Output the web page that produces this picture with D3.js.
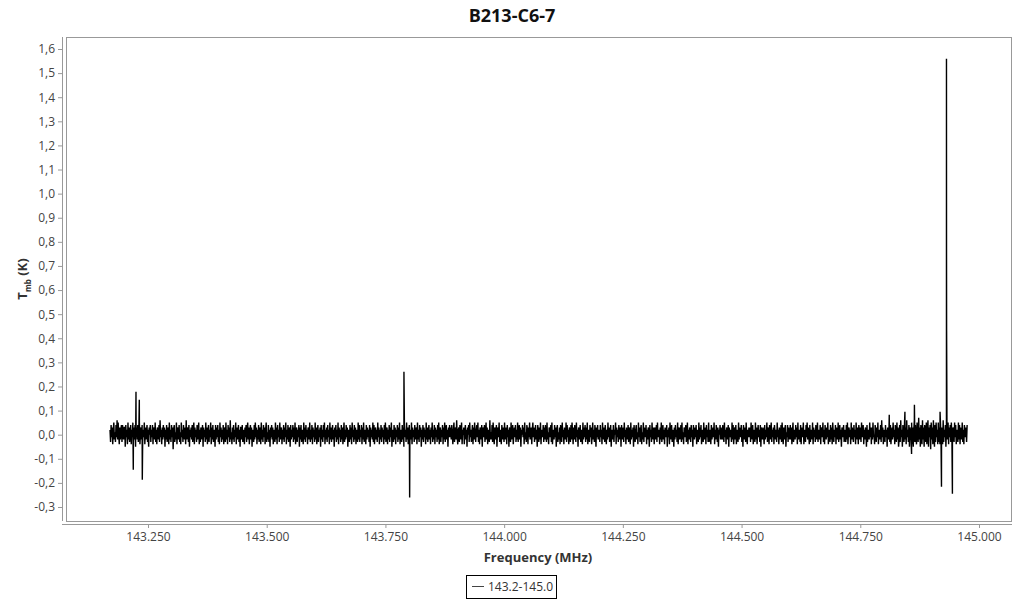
<!DOCTYPE html>
<html><head><meta charset="utf-8">
<script src="https://cdn.jsdelivr.net/npm/d3@7"></script>
<style>
body{margin:0;background:#fff;}
text{font-family:"Open Sans",sans-serif;}
</style></head>
<body><svg id="c" width="1024" height="600"></svg>
<script>
const title = "B213-C6-7";
const seriesName = "143.2-145.0";
const xTicks = [143.25,143.5,143.75,144.0,144.25,144.5,144.75,145.0];
const yTicks = [-0.3,-0.2,-0.1,0,0.1,0.2,0.3,0.4,0.5,0.6,0.7,0.8,0.9,1.0,1.1,1.2,1.3,1.4,1.5,1.6];
// channel range of the spectrum (MHz)
const freqStart = 143.170, freqEnd = 144.975;
// baseline channels (K), evenly spaced between freqStart and freqEnd
const tmbNoise = [
.02,-.03,.04,-.01,.03,-.04,.02,.05,-.02,.01,-.03,.04,-.01,.06,-.02,.05,.00,-.04,.03,-.02,.02,.04,-.03,.04,.01,
-.02,.03,.03,-.05,.04,-.01,.02,-.04,.05,-.02,.03,-.03,.01,.04,-.04,.02,-.01,.05,-.03,.03,-.02,.04,-.05,.01,.03,
-.02,.04,-.03,.02,.05,-.04,.01,.03,-.02,.04,-.03,.02,-.01,.05,-.04,.03,-.02,.01,.04,-.03,.02,-.05,.03,.00,.04,
-.03,.02,-.01,.04,-.04,.03,.01,-.02,.05,-.03,.02,-.04,.03,.01,-.02,.04,-.03,.06,-.01,.02,-.04,.03,-.02,.04,-.01,
.03,-.05,.02,-.02,.04,-.03,.01,.03,-.04,.05,-.02,.02,-.03,.04,-.01,.03,-.06,.02,.04,-.03,.01,-.02,.05,-.04,.02,
.03,-.02,.04,-.03,.01,-.04,.05,-.01,.02,-.03,.04,.00,-.02,.03,-.04,.06,-.02,.01,.03,-.03,.04,-.05,.02,-.01,.03,
-.02,.04,-.03,.02,.05,-.04,.03,-.01,.02,-.03,.04,-.02,.01,.05,-.04,.02,-.03,.03,.01,-.02,.04,-.05,.03,-.01,.02,
-.03,.05,-.02,.03,-.04,.01,.04,-.03,.02,-.01,.05,-.04,.03,-.02,.04,-.03,.01,.02,-.05,.04,-.02,.03,-.01,.04,-.03,
.02,-.04,.05,-.01,.03,-.03,.02,-.02,.04,-.04,.01,.03,-.03,.05,-.02,.02,-.04,.04,-.01,.03,-.03,.06,-.02,.01,-.04,
.03,-.02,.04,-.03,.02,-.01,.05,-.04,.03,-.02,.01,.04,-.03,.02,-.05,.03,.03,-.02,.04,-.03,-.02,.02,-.04,.03,-.01,
.04,-.03,.02,.05,-.02,.03,-.04,.01,.04,-.02,.03,-.05,.02,.01,-.03,.04,-.02,.05,-.01,.03,-.04,.02,-.02,.04,-.03,
.01,.03,-.04,.05,-.02,.02,-.03,.04,-.01,.03,-.04,.02,.05,-.03,.01,-.02,.04,-.03,.02,-.05,.03,-.01,.04,-.02,.03,
-.04,.02,.01,-.03,.05,-.02,.03,-.04,.04,-.01,.02,-.03,.05,-.02,.01,.03,-.04,.02,-.02,.04,-.03,.03,-.01,.05,-.04,
.02,-.02,.04,-.03,.01,.03,-.05,.04,-.02,.02,-.01,.04,-.03,.03,-.02,.05,-.04,.01,.03,-.03,.02,-.01,.04,-.05,.03,
-.02,.04,-.03,.02,.01,-.04,.05,-.02,.03,-.03,.04,-.01,.02,-.04,.03,.01,-.02,.05,-.03,.02,-.02,.04,-.04,.03,-.01,
.02,-.03,.05,-.02,.03,-.04,.01,.04,-.03,.02,-.01,.03,-.05,.04,-.02,.02,-.03,.04,-.01,.05,-.04,.02,-.02,.03,-.03,
.04,-.01,.02,-.04,.05,-.02,.03,-.03,.01,.04,-.02,.02,-.05,.03,-.01,.04,-.03,.02,-.02,.05,-.04,.03,-.01,.02,-.03,
.04,-.02,.03,-.04,.01,.05,-.03,.02,-.02,.04,-.01,.03,-.05,.02,.01,-.03,.04,-.02,.03,-.04,.05,-.01,.02,-.03,.04,
-.02,.03,-.04,.02,.01,-.03,.05,-.02,.04,-.03,.02,-.01,.04,-.04,.03,-.02,.05,-.03,.01,.02,-.04,.04,-.02,.03,-.01,
.02,-.03,.04,-.05,.03,-.01,.02,-.02,.05,-.03,.04,-.04,.01,.03,-.02,.02,-.03,.05,-.01,.03,-.04,.02,-.02,.04,-.03,
.03,-.01,.02,-.04,.04,-.02,.05,-.03,.01,.03,-.04,.02,-.02,.04,-.03,.03,-.01,.05,-.05,.02,.01,-.03,.04,-.02,.03,
-.04,.02,-.01,.04,-.03,.03,-.02,.05,-.04,.01,.02,-.03,.04,-.02,.03,-.05,.04,-.01,.02,-.03,.05,-.02,.03,-.04,.01,
.04,-.03,.02,-.02,.05,-.04,.03,-.01,.02,-.03,.04,-.02,.01,.03,-.04,.05,-.02,.02,-.03,.04,-.01,.03,-.05,.02,-.02,
.04,-.03,.03,-.01,.02,-.04,.05,-.02,.03,-.03,.01,.04,-.02,.02,-.04,.03,-.01,.05,-.03,.02,-.02,.04,-.04,.03,-.01,
.02,-.03,.04,-.02,.05,-.04,.01,.03,-.03,.02,-.01,.04,-.04,.03,-.02,.05,-.03,.01,.04,-.02,.02,-.05,.03,-.01,.04,
-.01,.03,-.02,.04,.00,-.04,.02,.05,-.03,.01,.03,-.02,.06,-.01,-.04,.02,.03,-.03,.04,.01,-.02,.05,-.04,.02,.00,
.03,-.04,.01,.04,-.02,.02,-.05,.03,.00,.04,-.03,.05,-.01,.02,-.03,.01,.04,-.04,.03,-.02,.05,.00,-.03,.02,.04,
-.01,.05,-.03,.02,-.04,.03,.01,-.02,.04,-.05,.02,.03,-.01,.04,-.03,.00,.05,-.02,.03,-.04,.02,.01,-.03,.06,-.02,
.01,-.02,.04,-.03,.05,.00,-.04,.03,.02,-.02,.04,-.05,.01,.03,-.01,.05,-.03,.02,.00,-.04,.04,.01,-.02,.03,-.03,
.05,-.02,.00,.03,-.04,.04,-.01,.02,-.05,.03,.01,-.03,.05,-.02,.02,.04,-.04,.00,.03,-.01,.04,-.03,.02,-.02,.05,
-.03,.01,.04,-.02,.03,-.05,.02,.00,.04,-.01,.03,-.04,.05,-.02,.01,-.03,.04,.02,-.04,.03,-.01,.05,-.02,.00,.03,
-.04,.02,.05,-.01,.03,-.03,.00,.04,-.02,.02,-.05,.04,.01,-.03,.03,-.02,.05,-.04,.02,.01,-.01,.04,-.03,.03,-.02,
.04,.00,-.03,.05,-.02,.01,-.04,.03,.02,-.01,.04,-.03,.05,-.04,.00,.02,-.02,.04,-.01,.03,-.05,.02,.04,-.03,.01,
-.02,.03,-.04,.04,.01,-.03,.05,-.01,.02,-.04,.03,.00,-.02,.05,-.03,.04,-.01,.02,-.04,.03,.01,-.03,.04,-.02,.05,
.01,-.04,.03,-.02,.04,.00,-.03,.05,-.01,.02,-.05,.03,.01,-.02,.04,-.03,.02,.00,-.04,.05,-.02,.03,-.01,.04,-.03,
.03,-.02,.05,-.04,.01,.02,-.03,.04,-.01,.03,-.04,.00,.05,-.02,.02,-.03,.04,.01,-.05,.03,-.01,.04,-.02,.02,.00,
-.03,.04,-.01,.02,-.04,.05,.00,-.02,.03,-.03,.04,.01,-.04,.02,-.02,.05,-.01,.03,-.03,.00,.04,-.05,.02,.01,-.02,
.04,-.03,.02,.00,.05,-.04,.03,-.01,.02,-.03,.04,-.02,.01,.03,-.05,.04,.00,-.02,.03,-.03,.05,-.01,.02,-.04,.03,
.00,-.02,.04,-.03,.03,.01,-.04,.05,-.02,.02,-.01,.03,-.05,.04,.00,-.03,.02,.04,-.02,.01,-.04,.05,-.01,.03,-.03,
.02,.04,-.04,.01,-.02,.05,-.03,.03,.00,-.01,.04,-.04,.02,-.02,.03,.01,-.05,.04,-.01,.02,-.03,.05,.00,-.02,.03,
-.04,.03,.01,-.02,.04,-.03,.05,-.01,.00,.02,-.04,.03,-.02,.05,-.03,.01,.04,-.02,.02,-.04,.03,.00,-.01,.04,-.05,
.02,-.01,.03,-.04,.05,.00,-.02,.04,-.03,.02,.01,-.05,.03,-.02,.04,-.01,.02,-.03,.05,-.04,.01,.03,-.02,.00,.04,
-.03,.05,-.02,.01,-.04,.03,.02,-.01,.04,-.03,.00,.05,-.04,.02,-.02,.03,.01,-.03,.04,-.01,.02,-.05,.04,.00,-.02,
.03,-.01,.04,-.04,.02,.00,-.03,.05,-.02,.03,-.01,.04,-.04,.01,.02,-.03,.05,-.02,.00,.03,-.04,.04,-.01,.02,-.03,
.05,-.03,.01,.02,-.04,.04,-.02,.00,.03,-.01,.05,-.04,.02,-.02,.04,.01,-.03,.03,-.05,.02,.00,.04,-.02,.03,-.01,
-.02,.04,.00,-.03,.05,-.01,.02,-.04,.03,.01,-.02,.04,-.05,.03,-.01,.02,.00,-.03,.05,-.02,.04,-.04,.01,.03,-.02,
.04,-.04,.02,.01,-.03,.05,-.02,.03,.00,-.01,.04,-.03,.02,-.05,.04,.01,-.02,.03,-.03,.05,.00,-.04,.02,-.01,.03,
-.01,.03,-.03,.05,.00,-.02,.04,-.04,.02,.01,-.03,.05,-.02,.03,-.04,.00,.04,-.01,.02,-.03,.04,-.05,.03,.01,-.02,
.03,.00,-.04,.04,-.02,.02,-.01,.05,-.03,.03,.01,-.04,.04,-.02,.00,.05,-.03,.02,-.01,.03,-.04,.04,.01,-.02,.02,
-.03,.05,-.01,.02,-.04,.03,.00,-.02,.04,-.03,.05,.01,-.04,.03,-.02,.02,.04,-.05,.01,-.01,.04,-.03,.03,.00,-.02,
.04,-.02,.03,-.04,.01,.05,-.03,.00,.02,-.02,.04,-.01,.03,-.04,.05,-.02,.01,.02,-.03,.04,-.04,.03,.00,-.01,.05,
-.04,.02,.01,-.03,.04,-.01,.05,-.02,.03,.00,-.04,.04,-.03,.02,.01,-.02,.05,-.04,.03,-.01,.02,-.03,.04,.00,-.02,
.05,-.03,.02,.00,-.02,.04,-.04,.03,.01,-.01,.05,-.03,.02,-.04,.04,.00,-.02,.03,-.01,.05,-.04,.02,.01,-.03,.04,
-.02,.03,-.04,.05,.01,-.03,.02,-.01,.04,-.04,.03,.00,-.02,.05,-.03,.01,.04,-.02,.02,-.05,.03,.01,-.01,.04,-.03,
.02,.00,-.03,.04,-.02,.05,-.04,.01,.03,-.01,.02,-.04,.05,-.02,.03,.00,-.03,.04,-.01,.02,-.04,.05,.01,-.02,.03,
-.04,.04,.01,-.02,.03,-.03,.05,.00,-.01,.04,-.04,.02,-.02,.03,.01,-.05,.04,-.03,.02,.00,-.02,.05,-.01,.03,-.04,
.03,-.02,.05,-.01,.00,-.04,.04,.02,-.03,.03,-.01,.05,-.04,.01,.02,-.02,.04,-.03,.06,-.01,.03,-.04,.02,.00,-.03,
.04,-.01,.02,-.05,.03,.01,-.02,.05,-.03,.04,-.04,.00,.03,-.02,.05,-.01,.02,-.04,.04,.01,-.03,.05,-.02,.03,-.05,
-.02,.04,-.03,.06,-.01,.02,-.05,.04,.00,-.03,.05,-.02,.03,-.04,.06,-.01,.02,-.03,.04,-.05,.03,.01,-.02,.05,-.04,
.03,-.05,.02,.06,-.03,.04,-.01,-.04,.05,.01,-.03,.07,-.02,.03,-.05,.04,.00,-.04,.06,-.02,.03,-.05,.04,.01,-.03,
.05,-.04,.02,.06,-.05,.03,-.01,.04,-.06,.05,-.02,.03,-.04,.06,.00,-.05,.04,-.03,.05,-.01,.02,-.04,.05,-.03,.03,
-.04,.05,-.02,.03,.00,-.04,.06,-.03,.02,-.01,.04,-.05,.03,.01,-.02,.05,-.04,.03,-.01,.04,-.03,.05,.00,-.04,.03,
.02,-.03,.05,-.01,.04,-.04,.02,.01,-.03,.05,-.02,.04,-.04,.03,.00,-.02,.05,-.03,.02,-.04,.04,.01,-.01,.03,-.03,
.04
];
// narrow features (lines) added on top of the baseline channels
const lineFreq = [143.219, 143.2247, 143.2317, 143.238, 143.789, 143.801, 144.811, 144.844, 144.858, 144.864, 144.918, 144.921, 144.9315, 144.9316, 144.9318, 144.944];
const lineTmb  = [-0.145, 0.178, 0.145, -0.187, 0.261, -0.261, 0.083, 0.095, -0.08, 0.124, 0.095, -0.216, 1.56, 0.77, 0.43, -0.245];

const svg = d3.select("#c");
const frame = {l:66, r:1012, t:37, b:521};

const xs = d3.scaleLinear().domain([143.25,145.0]).range([148,979]);
const ys = d3.scaleLinear().domain([-0.3,1.6]).range([507,49]);

const step = (freqEnd - freqStart) / (tmbNoise.length - 1);
const data = tmbNoise.map((v,i)=>({f: freqStart + i*step, v}))
  .concat(lineFreq.map((f,i)=>({f, v: lineTmb[i]})))
  .sort((a,b)=>a.f-b.f);

// frame
svg.append("rect").attr("x",frame.l+0.5).attr("y",frame.t+0.5)
  .attr("width",frame.r-frame.l-1).attr("height",frame.b-frame.t)
  .attr("fill","none").attr("stroke","#999");

svg.append("clipPath").attr("id","clip").append("rect")
  .attr("x",frame.l).attr("y",frame.t).attr("width",frame.r-frame.l).attr("height",frame.b-frame.t);

const line = d3.line().x(d=>xs(d.f)).y(d=>ys(d.v));
svg.append("path").datum(data).attr("clip-path","url(#clip)")
  .attr("d",line).attr("fill","none").attr("stroke","#000").attr("stroke-width",1.4);

// y axis
const loc = d3.formatLocale({decimal:",",thousands:".",grouping:[3],currency:["",""],minus:"-"});
const yFmt = loc.format(".1f");
const yAxis = d3.axisLeft(ys).tickValues(yTicks).tickFormat(yFmt).tickSize(4).tickPadding(3);
const gy = svg.append("g").attr("transform","translate(62,0)").call(yAxis);
gy.select(".domain").attr("d",`M0.5,${frame.t}V${frame.b}`).attr("stroke","#999");
gy.selectAll(".tick line").attr("stroke","#999").attr("x1",0.5).attr("x2",-4);
gy.selectAll(".tick text").attr("fill","#444").style("font-size","12px");

// x axis
const xAxis = d3.axisBottom(xs).tickValues(xTicks).tickFormat(d3.format(".3f")).tickSize(4).tickPadding(4);
const gx = svg.append("g").attr("transform","translate(0,524)").call(xAxis);
gx.select(".domain").attr("d",`M62,0.5H${frame.r}`).attr("stroke","#999");
gx.selectAll(".tick line").attr("stroke","#999");
gx.selectAll(".tick text").attr("fill","#444").style("font-size","12px");

// titles
svg.append("text").attr("x",512).attr("y",22).attr("text-anchor","middle")
  .style("font-size","18px").style("font-weight","bold").attr("fill","#111").text(title);
svg.append("text").attr("x",538).attr("y",562).attr("text-anchor","middle")
  .style("font-size","13px").style("font-weight","bold").attr("fill","#333").text("Frequency (MHz)");
const yt = svg.append("text").attr("transform","translate(27,279) rotate(-90)").attr("text-anchor","middle")
  .style("font-size","13px").style("font-weight","bold").attr("fill","#333");
yt.append("tspan").text("T");
yt.append("tspan").attr("dy",4).style("font-size","8px").text("mb");
yt.append("tspan").attr("dy",-4).text(" (K)");

// legend
const lg = svg.append("g");
lg.append("rect").attr("x",466.5).attr("y",575.5).attr("width",90).attr("height",23)
  .attr("fill","#fff").attr("stroke","#000");
lg.append("line").attr("x1",472).attr("x2",484).attr("y1",586.5).attr("y2",586.5).attr("stroke","#444");
lg.append("text").attr("x",488).attr("y",591).style("font-size","12px").attr("fill","#333").text(seriesName);
</script></body></html>
